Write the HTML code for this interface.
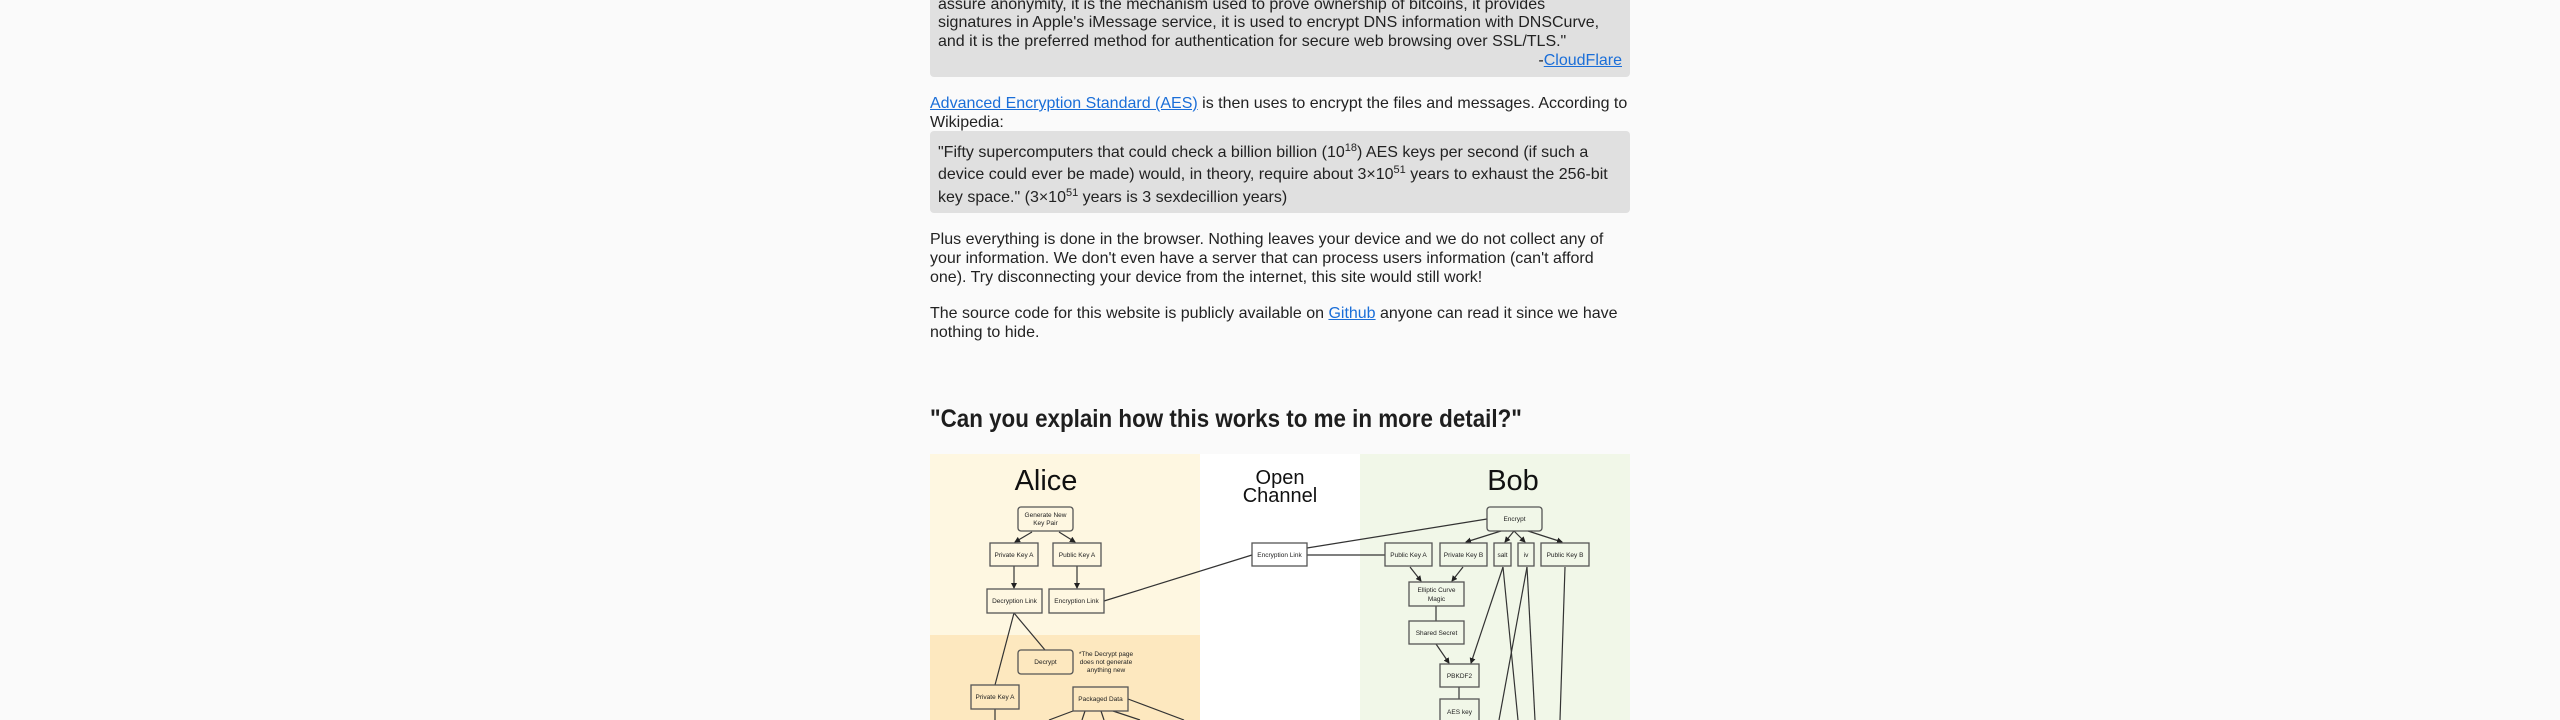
<!DOCTYPE html>
<html><head><meta charset="utf-8"><style>
html,body{margin:0;padding:0;width:2560px;height:720px;overflow:hidden;background:#fafafa;font-family:"Liberation Sans",sans-serif;color:#222}
.l{position:absolute;left:938px;font-size:16px;line-height:19px;white-space:nowrap;letter-spacing:0px}
.p{left:930px}
a{color:#1a6ed8;text-decoration:underline}
.box{position:absolute;left:930px;width:700px;background:#e0e0e0;border-radius:4px}
sup{font-size:11px;line-height:0;vertical-align:6px}
</style></head><body>
<div class="box" style="top:-20px;height:97px"></div>
<div class="l" style="top:-5px">assure anonymity, it is the mechanism used to prove ownership of bitcoins, it provides</div>
<div class="l" style="top:13px">signatures in Apple's iMessage service, it is used to encrypt DNS information with DNSCurve,</div>
<div class="l" style="top:32px">and it is the preferred method for authentication for secure web browsing over SSL/TLS."</div>
<div class="l" style="top:51px;left:auto;right:938px">-<a>CloudFlare</a></div>

<div class="l p" style="top:94px"><a>Advanced Encryption Standard (AES)</a> is then uses to encrypt the files and messages. According to</div>
<div class="l p" style="top:113px">Wikipedia:</div>
<div class="box" style="top:131px;height:82px"></div>
<div class="l" style="top:143px">"Fifty supercomputers that could check a billion billion (10<sup>18</sup>) AES keys per second (if such a</div>
<div class="l" style="top:165px">device could ever be made) would, in theory, require about 3×10<sup>51</sup> years to exhaust the 256-bit</div>
<div class="l" style="top:188px">key space." (3×10<sup>51</sup> years is 3 sexdecillion years)</div>

<div class="l p" style="top:230px">Plus everything is done in the browser. Nothing leaves your device and we do not collect any of</div>
<div class="l p" style="top:249px">your information. We don't even have a server that can process users information (can't afford</div>
<div class="l p" style="top:268px">one). Try disconnecting your device from the internet, this site would still work!</div>
<div class="l p" style="top:304px">The source code for this website is publicly available on <a>Github</a> anyone can read it since we have</div>
<div class="l p" style="top:323px">nothing to hide.</div>

<div style="position:absolute;left:930px;top:404px;font-size:25px;font-weight:bold;white-space:nowrap;line-height:30px;transform:scaleX(0.895);transform-origin:0 0;color:#1e1e1e">"Can you explain how this works to me in more detail?"</div>

<svg style="position:absolute;left:0;top:0" width="2560" height="720" viewBox="0 0 2560 720" font-family="Liberation Sans, sans-serif">
<defs><marker id="a" markerWidth="6" markerHeight="6" refX="5" refY="3" orient="auto" markerUnits="userSpaceOnUse"><path d="M0,0 L6,3 L0,6z" fill="#222"/></marker></defs>
<rect x="930" y="454" width="270" height="181" fill="#fef7e1"/>
<rect x="930" y="635" width="270" height="85" fill="#fde8bf"/>
<rect x="1200" y="454" width="160" height="266" fill="#ffffff"/>
<rect x="1360" y="454" width="270" height="266" fill="#f1f7e8"/>
<text x="1046" y="490" font-size="29" text-anchor="middle" fill="#111">Alice</text>
<text x="1513" y="490" font-size="29" text-anchor="middle" fill="#111">Bob</text>
<text x="1280" y="484" font-size="20" text-anchor="middle" fill="#111">Open</text>
<text x="1280" y="502" font-size="20" text-anchor="middle" fill="#111">Channel</text>
<g stroke="#333" stroke-width="1.2" fill="none">
<line x1="1032" y1="532" x2="1015" y2="542" marker-end="url(#a)"/>
<line x1="1059" y1="532" x2="1075" y2="542" marker-end="url(#a)"/>
<line x1="1014" y1="566" x2="1014" y2="588" marker-end="url(#a)"/>
<line x1="1077" y1="566" x2="1077" y2="588" marker-end="url(#a)"/>
<line x1="1104" y1="601" x2="1252" y2="555"/>
<line x1="1014" y1="613" x2="1045" y2="650"/>
<line x1="1014" y1="613" x2="995" y2="685"/>
<line x1="995" y1="709" x2="995" y2="720"/>
<line x1="1128" y1="699" x2="1184" y2="720"/>
<line x1="1073" y1="711" x2="1049" y2="720"/>
<line x1="1085" y1="711" x2="1082" y2="720"/>
<line x1="1101" y1="711" x2="1104" y2="720"/>
<line x1="1113" y1="711" x2="1140" y2="720"/>
<line x1="1307" y1="555" x2="1385" y2="555"/>
<line x1="1307" y1="548" x2="1487" y2="519"/>
<line x1="1501" y1="531" x2="1466" y2="542" marker-end="url(#a)"/>
<line x1="1514" y1="531" x2="1505" y2="542" marker-end="url(#a)"/>
<line x1="1514" y1="531" x2="1525" y2="542" marker-end="url(#a)"/>
<line x1="1528" y1="531" x2="1562" y2="542" marker-end="url(#a)"/>
<line x1="1410" y1="567" x2="1421" y2="581" marker-end="url(#a)"/>
<line x1="1463" y1="567" x2="1452" y2="581" marker-end="url(#a)"/>
<line x1="1436" y1="606" x2="1436" y2="621"/>
<line x1="1436" y1="644" x2="1449" y2="663" marker-end="url(#a)"/>
<line x1="1503" y1="567" x2="1471" y2="663" marker-end="url(#a)"/>
<line x1="1503" y1="567" x2="1518" y2="720"/>
<line x1="1527" y1="567" x2="1499" y2="720"/>
<line x1="1527" y1="567" x2="1535" y2="720"/>
<line x1="1565" y1="567" x2="1560" y2="720"/>
<line x1="1459" y1="687" x2="1459" y2="699"/>
</g>
<g stroke="#555" stroke-width="1.3" fill="none">
<rect x="1018" y="507" width="55" height="24" rx="3"/>
<rect x="990" y="543" width="48" height="23"/>
<rect x="1053" y="543" width="48" height="23"/>
<rect x="987" y="589" width="55" height="24"/>
<rect x="1049" y="589" width="55" height="24"/>
<rect x="1018" y="650" width="55" height="24" rx="3"/>
<rect x="971" y="685" width="48" height="24"/>
<rect x="1073" y="687" width="55" height="24"/>
<rect x="1252" y="543" width="55" height="23" fill="#fff"/>
<rect x="1487" y="507" width="55" height="24" rx="3"/>
<rect x="1385" y="543" width="47" height="23"/>
<rect x="1440" y="543" width="47" height="23"/>
<rect x="1494" y="543" width="17" height="23"/>
<rect x="1518" y="543" width="16" height="23"/>
<rect x="1541" y="543" width="48" height="23"/>
<rect x="1409" y="582" width="55" height="24"/>
<rect x="1409" y="621" width="55" height="23"/>
<rect x="1440" y="664" width="39" height="23"/>
<rect x="1440" y="699" width="39" height="30"/>
</g>
<g font-size="6.5" text-anchor="middle" fill="#222">
<text x="1045.5" y="517">Generate New</text><text x="1045.5" y="525">Key Pair</text>
<text x="1014" y="557">Private Key A</text>
<text x="1077" y="557">Public Key A</text>
<text x="1014.5" y="603">Decryption Link</text>
<text x="1076.5" y="603">Encryption Link</text>
<text x="1045.5" y="664">Decrypt</text>
<text x="1106" y="656">*The Decrypt page</text><text x="1106" y="664">does not generate</text><text x="1106" y="672">anything new</text>
<text x="995" y="699">Private Key A</text>
<text x="1100.5" y="701">Packaged Data</text>
<text x="1279.5" y="557">Encryption Link</text>
<text x="1514.5" y="521">Encrypt</text>
<text x="1408.5" y="557">Public Key A</text>
<text x="1463.5" y="557">Private Key B</text>
<text x="1502.5" y="557">salt</text>
<text x="1526" y="557">iv</text>
<text x="1565" y="557">Public Key B</text>
<text x="1436.5" y="592">Elliptic Curve</text><text x="1436.5" y="601">Magic</text>
<text x="1436.5" y="635">Shared Secret</text>
<text x="1459.5" y="678">PBKDF2</text>
<text x="1459.5" y="714">AES key</text>
</g>
</svg>
</body></html>
